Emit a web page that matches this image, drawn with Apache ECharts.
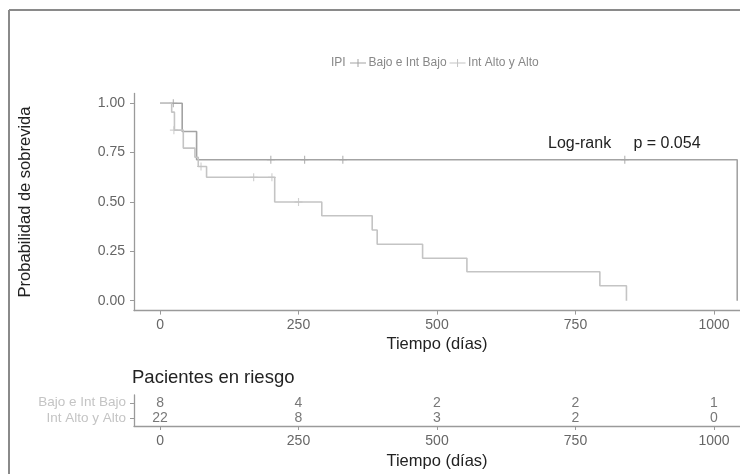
<!DOCTYPE html>
<html>
<head>
<meta charset="utf-8">
<script src="https://cdn.jsdelivr.net/npm/echarts@6/dist/echarts.min.js"></script>
<style>
  html, body { margin: 0; padding: 0; background: #fff; }
  #chart { width: 740px; height: 474px; }
</style>
</head>
<body>
<div id="chart"></div>
<script>
// curvas de Kaplan-Meier, [dia, supervivencia]
var bajoCurve = [[0, 1], [40, 0.857], [66, 0.714], [1042, 0.714], [1042, 0]];
var altoCurve = [[0, 1], [21, 0.955], [26, 0.864], [42, 0.773], [63, 0.727], [69, 0.68],
  [84, 0.625], [207, 0.5], [292, 0.43], [383, 0.358], [392, 0.286], [474, 0.215],
  [554, 0.147], [794, 0.076], [842, 0]];
// censuras (+)
var bajoCensor = [[24, 1], [200, 0.714], [261, 0.714], [330, 0.714], [839, 0.714]];
var altoCensor = [[25, 0.864], [74, 0.68], [169, 0.625], [202, 0.625], [250, 0.5]];

var groups = ['Bajo e Int Bajo', 'Int Alto y Alto'];
var timeTicks = [0, 250, 500, 750, 1000];
var probTicks = [0, 0.25, 0.5, 0.75, 1];
var bajoRisk = [8, 4, 2, 2, 1];
var altoRisk = [22, 8, 3, 2, 0];

var colBajo = '#a3a3a3';
var colAlto = '#c4c4c4';
var axisCol = '#9a9a9a';
var plusPath = 'path://M3,0H4V3H7V4H4V7H3V4H0V3H3Z';
var legendPath = 'path://M0,3.5H7.5V0H8.5V3.5H16V4.5H8.5V8H7.5V4.5H0Z';
var font = 'Liberation Sans, Arial, sans-serif';

var chart = echarts.init(document.getElementById('chart'));

var riskData = [];
timeTicks.forEach(function (t, i) {
  riskData.push([t, groups[0], bajoRisk[i]]);
  riskData.push([t, groups[1], altoRisk[i]]);
});

var xCommon = {
  type: 'value',
  min: -47,
  max: 1047,
  splitLine: { show: false },
  axisLine: { show: true, onZero: false, lineStyle: { color: axisCol, width: 1.3 } },
  axisTick: { show: true, customValues: timeTicks, length: 4, lineStyle: { color: axisCol } },
  axisLabel: {
    customValues: timeTicks, color: '#666', fontSize: 14, fontFamily: font, margin: 8,
    formatter: function (v) { return String(v); }
  },
  nameLocation: 'middle',
  nameTextStyle: { color: '#222', fontSize: 16.5, fontFamily: font }
};

var option = {
  animation: false,
  textStyle: { fontFamily: font },
  grid: [
    { left: 134, top: 93.4, width: 606, height: 217.2, outerBoundsMode: 'none' },
    { left: 134, top: 395, width: 606, height: 31, outerBoundsMode: 'none' }
  ],
  legend: {
    data: [
      { name: groups[0], icon: legendPath, itemStyle: { color: colBajo } },
      { name: groups[1], icon: legendPath, itemStyle: { color: colAlto } }
    ],
    left: 350, top: 57, padding: 0,
    itemWidth: 17, itemHeight: 8, itemGap: 3,
    textStyle: { color: '#888', fontSize: 12, fontFamily: font, padding: [0, 0, 0, -3] }
  },
  xAxis: [
    Object.assign({}, xCommon, { gridIndex: 0, name: 'Tiempo (días)', nameGap: 25 }),
    Object.assign({}, xCommon, { gridIndex: 1, name: 'Tiempo (días)', nameGap: 27 })
  ],
  yAxis: [
    {
      gridIndex: 0, type: 'value', min: -0.05, max: 1.05,
      splitLine: { show: false },
      axisLine: { show: true, onZero: false, lineStyle: { color: axisCol, width: 1.3 } },
      axisTick: { show: true, customValues: probTicks, length: 4, lineStyle: { color: axisCol } },
      axisLabel: {
        customValues: probTicks, color: '#666', fontSize: 14, fontFamily: font, margin: 9,
        formatter: function (v) { return v.toFixed(2); }
      },
      name: 'Probabilidad de sobrevida', nameLocation: 'middle', nameGap: 100, nameRotate: 90,
      nameTextStyle: { color: '#222', fontSize: 16.5, fontFamily: font }
    },
    {
      gridIndex: 1, type: 'category', data: [groups[1], groups[0]],
      axisLine: { show: true, onZero: false, lineStyle: { color: axisCol, width: 1.3 } },
      axisTick: { show: true, alignWithLabel: true, length: 4, lineStyle: { color: axisCol } },
      axisLabel: { interval: 0, color: '#c4c4c4', fontSize: 13.5, fontFamily: font, margin: 8 }
    }
  ],
  series: [
    {
      name: groups[0], type: 'line', step: 'end', data: bajoCurve, symbol: 'none',
      xAxisIndex: 0, yAxisIndex: 0, lineStyle: { color: colBajo, width: 1.6 },
      itemStyle: { color: colBajo }
    },
    {
      name: groups[1], type: 'line', step: 'end', data: altoCurve, symbol: 'none',
      xAxisIndex: 0, yAxisIndex: 0, lineStyle: { color: colAlto, width: 1.6 },
      itemStyle: { color: colAlto }
    },
    {
      type: 'scatter', data: bajoCensor, symbol: plusPath, symbolSize: 8,
      xAxisIndex: 0, yAxisIndex: 0, itemStyle: { color: colBajo }
    },
    {
      type: 'scatter', data: altoCensor, symbol: plusPath, symbolSize: 8,
      xAxisIndex: 0, yAxisIndex: 0, itemStyle: { color: colAlto }
    },
    {
      type: 'scatter', data: riskData, symbolSize: 0, xAxisIndex: 1, yAxisIndex: 1,
      label: {
        show: true, position: 'inside', color: '#555', fontSize: 14, fontFamily: font,
        formatter: function (p) { return String(p.value[2]); }
      }
    }
  ],
  graphic: [
    { type: 'line', shape: { x1: 9, y1: 10, x2: 9, y2: 474 }, style: { stroke: '#8a8a8a', lineWidth: 2 } },
    { type: 'line', shape: { x1: 9, y1: 10, x2: 740, y2: 10 }, style: { stroke: '#8a8a8a', lineWidth: 2 } },
    { type: 'text', left: 331, top: 57, style: { text: 'IPI', fill: '#888', fontSize: 12, fontFamily: font } },
    { type: 'text', left: 548, top: 136, style: { text: 'Log-rank     p = 0.054', fill: '#222', fontSize: 16, fontFamily: font } },
    { type: 'text', left: 132, top: 368, style: { text: 'Pacientes en riesgo', fill: '#222', fontSize: 18.5, fontFamily: font } }
  ]
};

chart.setOption(option);
</script>
</body>
</html>
